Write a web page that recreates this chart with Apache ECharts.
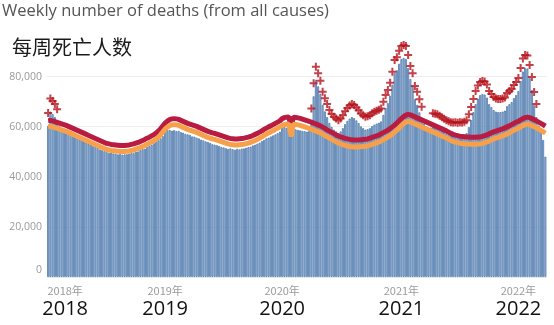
<!DOCTYPE html>
<html>
<head>
<meta charset="utf-8">
<script src="https://cdn.jsdelivr.net/npm/echarts@6/dist/echarts.min.js"></script>
<style>
  html, body { margin: 0; padding: 0; background: #fff; }
  #chart { width: 554px; height: 325px; }
</style>
</head>
<body>
<div id="chart"></div>
<script>
// Weekly deaths, all causes, 2018 week 1 to 2022 week 13
const years = [2018, 2019, 2020, 2021, 2022];
const weeksPerYear = [52, 52, 53, 52, 13];
const yTicks = [0, 20000, 40000, 60000, 80000];

// Observed weekly deaths (bars)
const observed = [
  // 2018
  60300, 66000, 65000, 63800, 61800, 60200, 59500, 58500, 57600, 57200,
  56800, 56000, 55700, 55200, 54800, 54600, 54000, 53600, 53200, 52800,
  52200, 51900, 51500, 50900, 50600, 50200, 49900, 49500, 49600, 49300,
  49200, 48900, 49100, 48800, 48900, 49000, 49200, 49400, 49500, 50000,
  50100, 50600, 51000, 51200, 51900, 52300, 52800, 53400, 53900, 54600,
  55300, 56200,
  // 2019
  58000, 58600, 58700, 58400, 58600, 58200, 58300, 57800, 57600, 57100,
  56900, 56700, 56100, 56000, 55600, 55300, 54800, 54500, 54100, 53900,
  53500, 53000, 52800, 52600, 52300, 51900, 51700, 51400, 51100, 51300,
  51000, 50800, 51100, 50900, 51200, 51300, 51600, 51800, 52000, 52500,
  52800, 53200, 53600, 54300, 54700, 55300, 55600, 56100, 56500, 56900,
  57400, 58000,
  // 2020
  59600, 60000, 59500, 59200, 57200, 59200, 58900, 58700, 58500, 58300,
  58200, 58000, 58300, 62100, 72100, 78700, 76100, 73100, 68700, 66100,
  63800, 61500, 59900, 58800, 58100, 57400, 58100, 59400, 61000, 62300,
  63200, 63800, 63400, 62500, 61400, 60100, 59400, 58800, 59000, 59400,
  60200, 60800, 61200, 61600, 62100, 64700, 67400, 69400, 72300, 76700,
  81400, 82500, 85100,
  // 2021
  87000, 87400, 87000, 83400, 79000, 76100, 71000, 68700, 65700, 62700,
  61200, 60100, 59400, 59600, 60200, 60000, 59800, 59200, 58600, 58000,
  57400, 57000, 56600, 56500, 56600, 56400, 56600, 56500, 56800, 57400,
  59800, 62600, 65800, 69000, 71200, 72600, 73000, 72800, 71600, 69000,
  67800, 66600, 66000, 65800, 65800, 66000, 66400, 68200, 69000, 69800,
  71400, 72600,
  // 2022
  74200, 78200, 82000, 83400, 83200, 79400, 74600, 68600, 63800, 60400,
  58700, 54700, 48000
];

// Expected number of deaths (orange line)
const expected = [
  // 2018
  60000, 60100, 59900, 59600, 59300, 59000, 58700, 58400, 58100, 57700,
  57300, 56900, 56500, 56100, 55700, 55300, 54900, 54500, 54100, 53700,
  53300, 52900, 52500, 52100, 51700, 51300, 50900, 50700, 50500, 50400,
  50300, 50200, 50100, 50100, 50100, 50200, 50300, 50500, 50700, 51000,
  51300, 51700, 52100, 52500, 53000, 53400, 53900, 54400, 55000, 55800,
  56800, 57900,
  // 2019
  59000, 59800, 60400, 60700, 60800, 60700, 60500, 60100, 59700, 59300,
  58900, 58600, 58300, 58000, 57700, 57300, 56900, 56500, 56100, 55700,
  55400, 55100, 54900, 54600, 54300, 54000, 53700, 53400, 53100, 52900,
  52800, 52700, 52700, 52800, 52900, 53000, 53200, 53400, 53700, 54100,
  54500, 54900, 55400, 55900, 56500, 57000, 57500, 57900, 58400, 58900,
  59400, 59900,
  // 2020
  60400, 60800, 61000, 61100, 56000, 61000, 60900, 60700, 60500, 60200,
  59900, 59600, 59300, 59000, 58600, 58300, 57900, 57500, 57000, 56500,
  55900, 55400, 54900, 54400, 53900, 53500, 53100, 52800, 52500, 52300,
  52100, 52000, 51900, 51900, 51900, 52000, 52100, 52200, 52300, 52600,
  52900, 53200, 53500, 53900, 54300, 54800, 55300, 55800, 56400, 57100,
  57800, 58600, 59500,
  // 2021
  60400, 61200, 61800, 62100, 61900, 61500, 61100, 60700, 60300, 59900,
  59500, 59100, 58700, 58300, 57900, 57500, 57100, 56700, 56300, 55900,
  55500, 55000, 54500, 54100, 53800, 53600, 53400, 53300, 53200, 53100,
  53100, 53000, 53000, 53000, 53100, 53100, 53300, 53600, 53900, 54300,
  54700, 55100, 55400, 55700, 56000, 56300, 56700, 57100, 57500, 58000,
  58500, 59000,
  // 2022
  59300, 59900, 60400, 60800, 61000, 60800, 60400, 60000, 59500, 59000,
  58500, 58000, 57400
];

// Upper bound threshold (red line)
const threshold = [
  // 2018
  62400, 62500, 62300, 62000, 61700, 61400, 61100, 60800, 60500, 60100,
  59700, 59300, 58900, 58500, 58100, 57700, 57300, 56900, 56500, 56100,
  55700, 55300, 54900, 54500, 54100, 53700, 53300, 53100, 52900, 52800,
  52700, 52600, 52500, 52500, 52500, 52600, 52700, 52900, 53100, 53400,
  53700, 54100, 54500, 54900, 55400, 55800, 56300, 56800, 57400, 58200,
  59200, 60300,
  // 2019
  61400, 62200, 62800, 63100, 63200, 63100, 62900, 62500, 62100, 61700,
  61300, 61000, 60700, 60400, 60100, 59700, 59300, 58900, 58500, 58100,
  57800, 57500, 57300, 57000, 56700, 56400, 56100, 55800, 55500, 55300,
  55200, 55100, 55100, 55200, 55300, 55400, 55600, 55800, 56100, 56500,
  56900, 57300, 57800, 58300, 58900, 59400, 59900, 60300, 60800, 61300,
  61800, 62300,
  // 2020
  63200, 63600, 63800, 63900, 59800, 63800, 63700, 63500, 63300, 63000,
  62700, 62400, 62100, 61800, 61400, 61100, 60700, 60300, 59800, 59300,
  58700, 58200, 57700, 57200, 56700, 56300, 55900, 55600, 55300, 55100,
  54900, 54800, 54700, 54700, 54700, 54800, 54900, 55000, 55100, 55400,
  55700, 56000, 56300, 56700, 57100, 57600, 58100, 58600, 59200, 59900,
  60600, 61400, 62300,
  // 2021
  63200, 64000, 64600, 64900, 64700, 64300, 63900, 63500, 63100, 62700,
  62300, 61900, 61500, 61100, 60700, 60300, 59900, 59500, 59100, 58700,
  58300, 57800, 57300, 56900, 56600, 56400, 56200, 56100, 56000, 55900,
  55900, 55800, 55800, 55800, 55900, 55900, 56100, 56400, 56700, 57100,
  57500, 57900, 58200, 58500, 58800, 59100, 59500, 59900, 60300, 60800,
  61300, 61800,
  // 2022
  62100, 62700, 63200, 63600, 63800, 63600, 63200, 62800, 62300, 61800,
  61300, 60800, 60200
];

// Runs of weeks (first, last) whose count is above the threshold
const excessRanges = [[0, 4], [117, 166], [171, 217]];

// Week categories and the index of each year's first week
const weeks = [];
const yearStart = {};
years.forEach((y, k) => {
  yearStart[weeks.length] = y;
  for (let w = 1; w <= weeksPerYear[k]; w++) {
    weeks.push(y + '-W' + String(w).padStart(2, '0'));
  }
});

const flagged = observed.map(() => null);
excessRanges.forEach(([a, b]) => {
  for (let i = a; i <= b; i++) flagged[i] = observed[i];
});

const latin = '"Open Sans", "Noto Sans CJK SC", sans-serif';
const cjk = '"Noto Sans CJK SC", "Open Sans", sans-serif';

const chart = echarts.init(document.getElementById('chart'), null, { renderer: 'canvas' });

chart.setOption({
  animation: false,
  backgroundColor: '#fff',
  title: [
    {
      text: 'Weekly number of deaths (from all causes)',
      left: -3, top: -2,
      textStyle: { fontFamily: latin, fontSize: 16.5, fontWeight: 'normal', color: '#555' }
    },
    {
      text: '每周死亡人数',
      left: 7, top: 32,
      textStyle: { fontFamily: cjk, fontSize: 20, fontWeight: 'normal', color: '#1a1a1a' }
    }
  ],
  grid: { left: 47, right: 7.5, top: 26.4, bottom: 48 },
  xAxis: {
    type: 'category',
    data: weeks,
    axisLine: { show: false },
    axisTick: { show: false },
    axisLabel: {
      interval: (i) => yearStart[i] !== undefined,
      margin: 6,
      formatter: (v, i) => {
        const y = v.slice(0, 4);
        return i === 0 ? '{s0|' + y + '年}\n{b0|' + y + '}' : '{s|' + y + '年}\n{b|' + y + '}';
      },
      rich: {
        s:  { fontFamily: cjk, fontSize: 11, color: '#9a9a9a', lineHeight: 15, align: 'center' },
        b:  { fontFamily: latin, fontSize: 20, color: '#111', lineHeight: 23, align: 'center' },
        s0: { fontFamily: cjk, fontSize: 11, color: '#9a9a9a', lineHeight: 15, align: 'center', padding: [0, 0, 0, 34] },
        b0: { fontFamily: latin, fontSize: 20, color: '#111', lineHeight: 23, align: 'center', padding: [0, 0, 0, 34] }
      }
    }
  },
  yAxis: {
    type: 'value',
    min: 0, max: 100000, interval: 20000,
    axisLine: { show: false },
    axisTick: { show: false },
    splitLine: { lineStyle: { color: ['#ededed', '#ededed', '#ededed', '#ededed', '#ededed', 'rgba(0,0,0,0)'], width: 1 } },
    axisLabel: {
      margin: 5,
      fontFamily: latin, fontSize: 10.5, color: '#999',
      formatter: (v) => {
        if (yTicks.indexOf(v) < 0) return '';
        if (v === 0) return '{z|0}';
        return v.toLocaleString('en-US');
      },
      rich: { z: { fontFamily: latin, fontSize: 10.5, color: '#999', padding: [0, 0, 14, 0] } }
    }
  },
  series: [
    {
      type: 'bar',
      data: observed,
      barCategoryGap: '14%',
      itemStyle: { color: '#b4cae3', borderColor: '#4673a8', borderWidth: 0.8 },
      z: 1
    },
    {
      type: 'line',
      data: threshold,
      showSymbol: false,
      lineStyle: { color: '#b91c40', width: 5 },
      z: 2
    },
    {
      type: 'line',
      data: expected,
      showSymbol: false,
      lineStyle: { color: '#f7a04c', width: 5 },
      z: 3
    },
    {
      type: 'scatter',
      data: flagged,
      symbol: 'path://M3,0h2v3h3v2h-3v3h-2v-3h-3v-2h3z',
      symbolSize: 8,
      symbolOffset: [0, -13],
      itemStyle: { color: '#b5111c' },
      z: 4
    }
  ]
});
</script>
</body>
</html>
